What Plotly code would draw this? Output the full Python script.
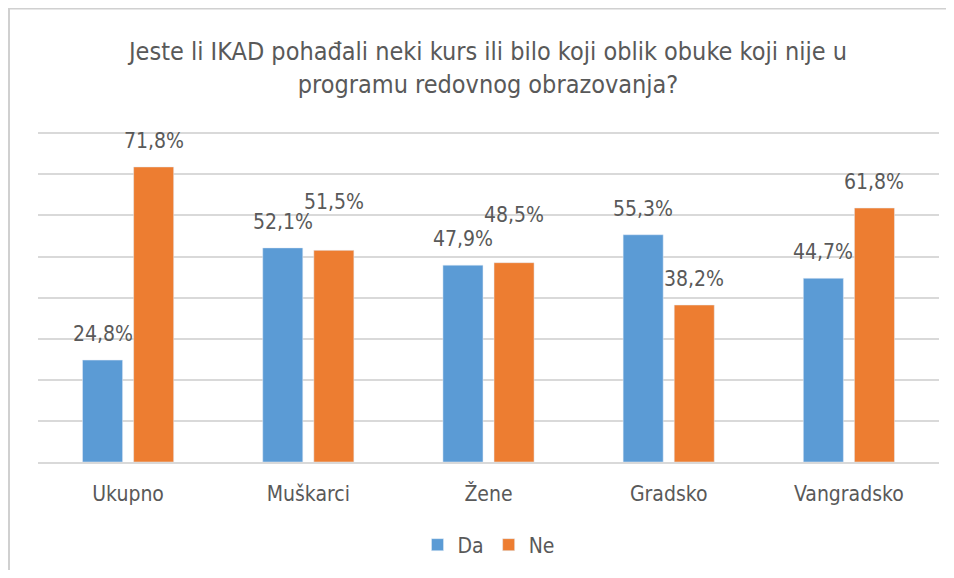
import plotly.graph_objects as go

categories = ["Ukupno", "Muškarci", "Žene", "Gradsko", "Vangradsko"]
da_values = [24.8, 52.1, 47.9, 55.3, 44.7]
ne_values = [71.8, 51.5, 48.5, 38.2, 61.8]
series_names = ["Da", "Ne"]
title_text = "Jeste li IKAD pohađali neki kurs ili bilo koji oblik obuke koji nije u<br>programu redovnog obrazovanja?"

BLUE = "#5B9BD5"
ORANGE = "#ED7D31"
TXT = "#595959"
FONT = "DejaVu Sans Condensed, Roboto Condensed, Liberation Sans Narrow, Roboto, sans-serif"

# page offset (body margin) compensation; figure sized so the page does not overflow
OFF = 8
W, H = 954 - 2 * OFF, 578 - 2 * OFF
L, T = 38 - OFF, 132 - OFF
PW, PH = 901, 330

def fmt(v):
    return f"{v:.1f}".replace(".", ",") + "%"

fig = go.Figure()
fig.add_trace(go.Bar(x=categories, y=da_values, name=series_names[0], marker_color=BLUE))
fig.add_trace(go.Bar(x=categories, y=ne_values, name=series_names[1], marker_color=ORANGE))

annotations = []
for c, d, n in zip(categories, da_values, ne_values):
    # labels would collide when both bars are nearly equal: lift the second one
    lift = 22 if abs(d - n) < 3 else 0
    annotations.append(dict(x=c, y=d, xref="x", yref="y", text=fmt(d), showarrow=False,
                            xshift=-25.5, yshift=26, yanchor="middle",
                            font=dict(family=FONT, size=21, color=TXT)))
    annotations.append(dict(x=c, y=n, xref="x", yref="y", text=fmt(n), showarrow=False,
                            xshift=25.5, yshift=26 + lift, yanchor="middle",
                            font=dict(family=FONT, size=21, color=TXT)))

def px_x(p):
    return (p - OFF - L) / PW

def px_y(p):
    return (T + PH - (p - OFF)) / PH

fig.update_layout(
    width=W, height=H,
    paper_bgcolor="white", plot_bgcolor="white",
    margin=dict(l=L, r=W - L - PW, t=T, b=H - T - PH, autoexpand=False),
    barmode="group", bargap=0.433, bargroupgap=0.216,
    title=dict(text=title_text, xref="paper", x=px_x(488), xanchor="center",
               y=1 - (60 - OFF) / H, yanchor="middle",
               font=dict(family=FONT, size=25, color=TXT)),
    font=dict(family=FONT, color=TXT),
    showlegend=True,
    legend=dict(orientation="h", x=0.5, xanchor="center", y=px_y(545), yanchor="middle",
                font=dict(family=FONT, size=21, color=TXT), traceorder="normal",
                itemwidth=30),
    annotations=annotations,
    shapes=[
        dict(type="line", xref="paper", yref="paper", x0=px_x(5), x1=px_x(960),
             y0=px_y(8.5), y1=px_y(8.5), line=dict(color="#D0D0D0", width=2)),
        dict(type="line", xref="paper", yref="paper", x0=px_x(9), x1=px_x(9),
             y0=px_y(7), y1=px_y(590), line=dict(color="#D0D0D0", width=2)),
    ],
)
fig.update_xaxes(showline=True, linecolor="#D9D9D9", linewidth=1.5, ticks="",
                 tickfont=dict(family=FONT, size=21, color=TXT), ticklabelstandoff=12)
fig.update_yaxes(range=[0, 80.3], dtick=10, showticklabels=False, showgrid=True,
                 gridcolor="#D9D9D9", gridwidth=1.5, zeroline=False)

fig.write_html("out.html")
